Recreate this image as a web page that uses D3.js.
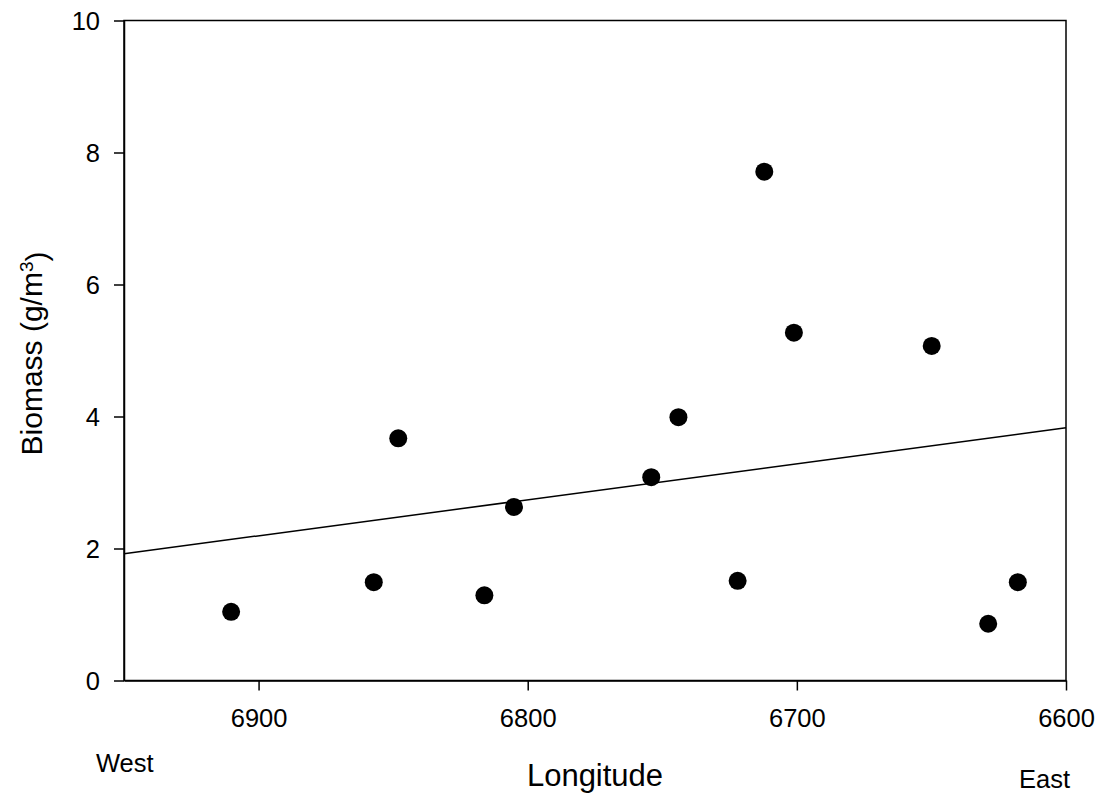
<!DOCTYPE html>
<html>
<head>
<meta charset="utf-8">
<script src="https://cdn.jsdelivr.net/npm/d3@7"></script>
<style>
  html, body { margin: 0; padding: 0; background: #fff; }
  svg { display: block; }
  text { font-family: "Liberation Sans", Arial, sans-serif; fill: #000; }
</style>
</head>
<body>
<svg id="chart" width="1104" height="798"></svg>
<script>
// Sampling stations: longitude (reversed axis, west on the left) and biomass
const longitude = [6910.2, 6857.2, 6848.1, 6816.1, 6805.1, 6754.1, 6744.0, 6722.0, 6712.1, 6701.1, 6649.9, 6628.9, 6617.9];
const biomass   = [1.04,   1.49,   3.67,   1.29,   2.63,   3.08,   3.99,   1.51,   7.71,   5.27,   5.07,   0.86,   1.49];

// Linear fit, given at the two ends of the longitude range
const fitLongitude = [6950, 6600];
const fitBiomass   = [1.92, 3.83];

const xTicks = [6900, 6800, 6700, 6600];
const yTicks = [0, 2, 4, 6, 8, 10];

(function draw() {
  const svg = d3.select("#chart");
  const plotLeft = 124, plotRight = 1066, plotTop = 20.5, plotBottom = 680.5;

  const x = d3.scaleLinear().domain([6950, 6600]).range([plotLeft, plotRight]);
  const y = d3.scaleLinear().domain([0, 10]).range([plotBottom, plotTop]);

  // Frame around the plot area
  svg.append("rect")
    .attr("x", plotLeft).attr("y", plotTop)
    .attr("width", plotRight - plotLeft).attr("height", plotBottom - plotTop)
    .attr("fill", "none").attr("stroke", "#000").attr("stroke-width", 1.5);

  const tickFont = "25.5px";
  const fontStack = "'Liberation Sans', Arial, sans-serif";

  const yAxis = svg.append("g")
    .attr("transform", `translate(${plotLeft},0)`)
    .call(d3.axisLeft(y).tickValues(yTicks).tickFormat(d3.format("d"))
          .tickSize(10).tickSizeOuter(0).tickPadding(14));
  yAxis.select(".domain").attr("stroke-width", 1.5);
  yAxis.selectAll(".tick line").attr("stroke-width", 1.5);
  yAxis.selectAll(".tick text").style("font-size", tickFont)
    .style("font-family", fontStack).attr("dy", "0.35em");

  const xAxis = svg.append("g")
    .attr("transform", `translate(0,${plotBottom})`)
    .call(d3.axisBottom(x).tickValues(xTicks).tickFormat(d3.format("d"))
          .tickSize(10).tickSizeOuter(0).tickPadding(18));
  xAxis.select(".domain").attr("stroke-width", 1.5);
  xAxis.selectAll(".tick line").attr("stroke-width", 1.5);
  xAxis.selectAll(".tick text").style("font-size", tickFont).style("font-family", fontStack);

  // Regression line
  const fit = fitLongitude.map((lon, i) => [lon, fitBiomass[i]]);
  svg.append("path")
    .datum(fit)
    .attr("d", d3.line().x(d => x(d[0])).y(d => y(d[1])))
    .attr("fill", "none").attr("stroke", "#000").attr("stroke-width", 1.5);

  // Station points
  const points = longitude.map((lon, i) => ({ lon, val: biomass[i] }));
  svg.append("g").selectAll("circle")
    .data(points)
    .join("circle")
    .attr("cx", d => x(d.lon))
    .attr("cy", d => y(d.val))
    .attr("r", 9)
    .attr("fill", "#000");

  // Axis titles
  svg.append("text")
    .attr("x", (plotLeft + plotRight) / 2).attr("y", 786)
    .attr("text-anchor", "middle")
    .style("font-size", "31px")
    .text("Longitude");

  const yTitle = svg.append("text")
    .attr("transform", `translate(42,${(plotTop + plotBottom) / 2 + 3}) rotate(-90)`)
    .attr("text-anchor", "middle")
    .style("font-size", "30px");
  yTitle.append("tspan").text("Biomass (g/m");
  yTitle.append("tspan").attr("dy", "-0.45em").style("font-size", "19px").text("3");
  yTitle.append("tspan").attr("dy", "0.45em").text(")");

  // Direction hints under the axis ends
  svg.append("text")
    .attr("x", 96).attr("y", 771.5)
    .style("font-size", tickFont)
    .text("West");
  svg.append("text")
    .attr("x", 1019).attr("y", 788)
    .style("font-size", tickFont)
    .text("East");
})();
</script>
</body>
</html>
